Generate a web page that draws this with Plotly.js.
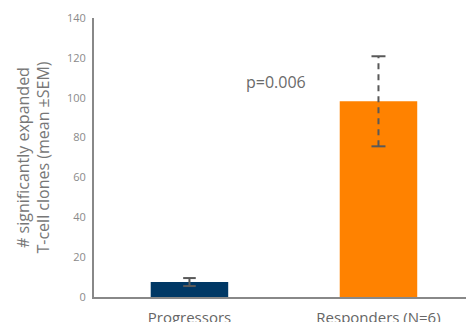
<!DOCTYPE html>
<html>
<head>
<meta charset="utf-8">
<script src="https://cdn.plot.ly/plotly-3.0.1.min.js"></script>
<style>html,body{margin:0;padding:0;background:#fff;}#chart{width:466px;height:322px;}</style>
</head>
<body>
<div id="chart"></div>
<script>
const categories = ['Progressors', 'Responders (N=6)'];
const means = [7.5, 98.2];
const sems = [2.0, 22.6];
const barColors = ['#003865', '#FF8200'];
const errorDash = ['solid', '6px,5px'];
const pLabel = 'p=0.006';
const pLabelY = 108;

const font = 'Open Sans, sans-serif';
const errColor = '#595959';

const traces = [{
  type: 'bar',
  x: categories,
  y: means,
  width: 0.41,
  marker: {color: barColors},
  hoverinfo: 'skip'
}];

categories.forEach((c, i) => {
  const lo = means[i] - sems[i], hi = means[i] + sems[i];
  traces.push({
    type: 'scatter', mode: 'lines',
    x: [c, c], y: [lo, hi],
    line: {color: errColor, width: 2, dash: errorDash[i]},
    hoverinfo: 'skip'
  });
  traces.push({
    type: 'scatter', mode: 'markers',
    x: [c, c], y: [lo, hi],
    marker: {symbol: 'line-ew', size: i === 0 ? 9 : 10, line: {color: errColor, width: 2}},
    hoverinfo: 'skip'
  });
});

const layout = {
  width: 466,
  height: 322,
  margin: {l: 94, r: 0, t: 18, b: 25},
  paper_bgcolor: '#fff',
  plot_bgcolor: '#fff',
  showlegend: false,
  xaxis: {
    type: 'category',
    range: [-0.505, 1.463],
    showline: true,
    linecolor: '#888888',
    linewidth: 2,
    ticks: '',
    showgrid: false,
    zeroline: false,
    ticklabelstandoff: 6,
    tickfont: {family: font, size: 15, color: '#666666'},
    fixedrange: true
  },
  yaxis: {
    range: [0, 140],
    dtick: 20,
    showline: true,
    linecolor: '#888888',
    linewidth: 2,
    ticks: '',
    showgrid: false,
    zeroline: false,
    ticklabelstandoff: 4,
    tickfont: {family: font, size: 11, color: '#8a8a8a'},
    title: {
      text: '# significantly expanded<br>T-cell clones (mean ±SEM)',
      font: {family: font, size: 16, color: '#777777'},
      standoff: 13
    },
    fixedrange: true
  },
  annotations: [{
    x: 0.46, xref: 'x', y: pLabelY, yref: 'y',
    text: pLabel, showarrow: false,
    font: {family: font, size: 16, color: '#6a6a6a'}
  }]
};

Plotly.newPlot('chart', traces, layout, {displayModeBar: false, staticPlot: true});
</script>
</body>
</html>
